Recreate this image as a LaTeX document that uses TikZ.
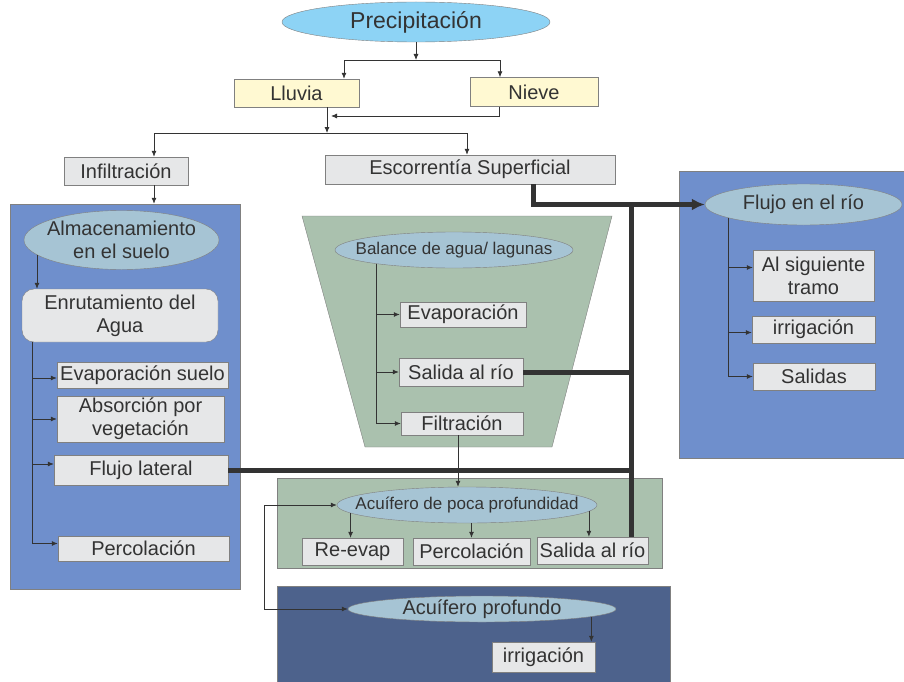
\documentclass[tikz,border=0pt]{standalone}
\usepackage{fontspec}
\setmainfont{Liberation Sans}
\usetikzlibrary{shapes.geometric,arrows.meta}
\definecolor{rainblue}{RGB}{141,211,245}
\definecolor{paleyellow}{RGB}{255,249,210}
\definecolor{boxgray}{RGB}{230,231,232}
\definecolor{linegray}{RGB}{128,128,128}
\definecolor{soilblue}{RGB}{111,143,204}
\definecolor{bubbleblue}{RGB}{166,196,212}
\definecolor{pondgreen}{RGB}{170,193,174}
\definecolor{deepblue}{RGB}{77,98,140}
\definecolor{inkgray}{RGB}{51,51,51}
\tikzstyle{box}=[rectangle,draw=linegray,fill=boxgray,inner sep=0pt,text=inkgray,font=\fontsize{20}{23}\selectfont,align=center]
\tikzstyle{snowbox}=[box,fill=paleyellow]
\tikzstyle{bubble}=[ellipse,draw=linegray,fill=bubbleblue,inner xsep=-22pt,inner ysep=-6pt,text=inkgray,font=\fontsize{20}{23}\selectfont,align=center]
\tikzstyle{panel}=[rectangle,draw=linegray,fill=soilblue,inner sep=0pt]
\tikzstyle{flow}=[draw=inkgray,line width=0.8pt]
\tikzstyle{trunk}=[draw=inkgray,line width=5pt]

\begin{document}
\begin{tikzpicture}[x=1pt,y=-1pt,>={Latex[length=6pt,width=5pt]}]
\useasboundingbox (0,0) rectangle (904,682);
\node[panel, minimum width=230pt, minimum height=385pt] at (125, 396.5) (soil) {};
\node[panel, minimum width=226pt, minimum height=287pt] at (792, 314.5) (river) {};
\draw[panel, fill=pondgreen] (302,216) -- (612,216) -- (552,447) -- (365,447) -- cycle;
\node[panel, fill=pondgreen, minimum width=385pt, minimum height=90pt] at (469.5, 523) (shallow) {};
\node[panel, fill=deepblue, minimum width=393pt, minimum height=100pt] at (473.5, 636) (deep) {};

\node[bubble, fill=rainblue, minimum width=268pt, minimum height=40pt, font=\fontsize{23}{26}\selectfont] at (416, 22) (pre) {Precipitación};
\node[snowbox, minimum width=125pt, minimum height=28pt] at (296.5, 93) (llu) {Lluvia};
\node[snowbox, minimum width=128pt, minimum height=29pt] at (534, 92) (nie) {Nieve};
\node[box, minimum width=124pt, minimum height=28pt] at (126, 171) (inf) {Infiltración};
\node[box, minimum width=290pt, minimum height=29pt] at (470, 169.5) (esc) {Escorrentía Superficial};

\node[bubble, minimum width=195pt, minimum height=59pt] at (121.5, 240) (alm) {Almacenamiento\\en el suelo};
\node[box, rounded corners=12pt, minimum width=196pt, minimum height=53pt] at (120, 315.5) (enr) {Enrutamiento del\\Agua};
\node[box, minimum width=171pt, minimum height=26pt] at (142.5, 375) (evs) {Evaporación suelo};
\node[box, minimum width=167pt, minimum height=46pt] at (140.5, 419) (veg) {Absorción por\\vegetación};
\node[box, minimum width=174pt, minimum height=30pt] at (141, 470) (fl) {Flujo lateral};
\node[box, minimum width=171pt, minimum height=25pt] at (143.5, 548.5) (per) {Percolación};

\node[bubble, font=\fontsize{17}{20}\selectfont, minimum width=238pt, minimum height=36pt] at (454, 250) (bal) {Balance de agua/ lagunas};
\node[box, minimum width=126pt, minimum height=25pt] at (463, 314.5) (eva) {Evaporación};
\node[box, minimum width=124pt, minimum height=28pt] at (461, 372) (sr1) {Salida al río};
\node[box, minimum width=122pt, minimum height=23pt] at (462, 423.5) (fil) {Filtración};

\node[bubble, font=\fontsize{17}{20}\selectfont, minimum width=260pt, minimum height=36pt] at (467, 505) (pa) {Acuífero de poca profundidad};
\node[box, minimum width=101pt, minimum height=27pt] at (352.5, 551.5) (rev) {Re-evap};
\node[box, minimum width=117pt, minimum height=27pt] at (471.5, 551.5) (pe2) {Percolación};
\node[box, minimum width=111pt, minimum height=27pt] at (592.5, 550.5) (sr2) {Salida al río};

\node[bubble, minimum width=268pt, minimum height=26pt] at (482, 609) (pp) {Acuífero profundo};
\node[box, minimum width=103pt, minimum height=30pt] at (543.5, 657) (ir2) {irrigación};

\node[bubble, minimum width=197pt, minimum height=41pt] at (803.5, 204.5) (flu) {Flujo en el río};
\node[box, minimum width=121pt, minimum height=51pt] at (813.5, 275.5) (ast) {Al siguiente\\tramo};
\node[box, minimum width=123pt, minimum height=27pt] at (813.5, 329.5) (ir1) {irrigación};
\node[box, minimum width=122pt, minimum height=27pt] at (814, 376.5) (sal) {Salidas};

\coordinate (split) at (416, 60);
\coordinate (mix) at (327, 133);
\draw[flow,->] (pre.south) -- (split);
\draw[flow,->] (split) -| ([xshift=47.5pt]llu.north);
\draw[flow,->] (split) -| ([xshift=-34pt]nie.north);
\draw[flow,->] ([xshift=30.5pt]llu.south) -- (mix);
\draw[flow,->] ([xshift=-35pt]nie.south) |- ([xshift=4pt,yshift=17pt]mix);
\draw[flow,->] (mix) -| ([xshift=28pt]inf.north);
\draw[flow,->] (mix) -| ([xshift=-3pt]esc.north);
\coordinate (infout) at ([xshift=28pt]inf.south);
\draw[flow,->] (infout) -- (infout |- soil.north);

\draw[flow,->] (alm.190) -- (alm.190 |- enr.north);
\coordinate (lt) at ([xshift=11pt]enr.south west);
\draw[flow,->] (lt) |- ([yshift=5pt]per.west);
\draw[flow,->] (lt |- evs.west) ++(0,3) -- ([yshift=-3pt]evs.west);
\draw[flow,->] (lt |- veg.west) -- (veg.west);
\draw[flow,->] (lt |- fl.west) ++(0,-6) -- ([yshift=6pt]fl.west);

\coordinate (pt) at (bal.190);
\draw[flow,->] (pt) |- (fil.west);
\draw[flow,->] (pt |- eva.west) -- (eva.west);
\draw[flow,->] (pt |- sr1.west) -- (sr1.west);
\draw[flow,->] ([xshift=-4pt]fil.south) -- ([xshift=-4pt]fil.south |- pa.north);

\draw[flow,->] (pa.184) -- (pa.184 |- rev.north);
\draw[flow,->] (pa.south -| pe2.north) -- (pe2.north);
\draw[flow,->] (pa.357) -- (pa.357 |- sr2.north);
\draw[flow,<->] (pa.west) -- ++(-72,0) |- (pp.west);
\draw[flow,->] (pp.356) -- (pp.356 |- ir2.north);

\coordinate (rt) at (flu.190);
\draw[flow,->] (rt) |- (sal.west);
\draw[flow,->] (rt |- ast.west) ++(0,-8) -- ([yshift=8pt]ast.west);
\draw[flow,->] (rt |- ir1.west) ++(0,3) -- ([yshift=-3pt]ir1.west);

\coordinate (jr) at (631, 205);
\draw[trunk,-{Latex[length=13pt,width=12pt]}] ([xshift=63pt]esc.south) |- (flu.west);
\draw[trunk] (jr) -- (jr |- sr2.north);
\draw[trunk] (sr1.east) -- (sr1.east -| jr);
\draw[trunk] (fl.east) -- (fl.east -| jr);
\end{tikzpicture}
\end{document}
